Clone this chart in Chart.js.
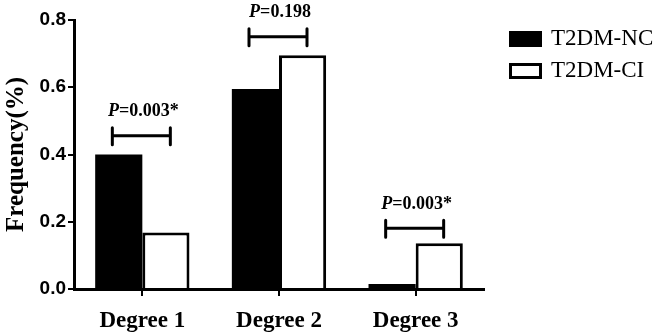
<!DOCTYPE html>
<html>
<head>
<meta charset="utf-8">
<script src="https://cdn.jsdelivr.net/npm/chart.js@4/dist/chart.umd.min.js"></script>
<style>
    body { margin: 0; background: #fff; }
    #wrap { width: 663px; height: 336px; }
</style>
</head>
<body>
<div id="wrap"><canvas id="chart"></canvas></div>
<script>
const categories = ["Degree 1", "Degree 2", "Degree 3"];
const seriesNames = ["T2DM-NC", "T2DM-CI"];
const ncValues = [0.40, 0.595, 0.015];
const ciValues = [0.168, 0.695, 0.136];
const pLabels = ["0.003*", "0.198", "0.003*"];
const bracketLevels = [0.456, 0.75, 0.181];
const yTicks = [0, 0.2, 0.4, 0.6, 0.8];

const serif = "'Liberation Serif', 'Times New Roman', serif";
const sans = "'Liberation Sans', Arial, sans-serif";

// brackets with P values + legend on the right
const extrasPlugin = {
    id: "extras",
    afterDraw(chart) {
        const ctx = chart.ctx;
        const y = chart.scales.y;
        const black = chart.getDatasetMeta(0).data;
        const white = chart.getDatasetMeta(1).data;
        ctx.save();
        ctx.strokeStyle = "#000";
        ctx.fillStyle = "#000";
        ctx.lineWidth = 3;
        ctx.lineCap = "round";
        pLabels.forEach((txt, i) => {
            const mid = (black[i].x + white[i].x) / 2 - 1;
            const by = y.getPixelForValue(bracketLevels[i]);
            const x0 = mid - 29, x1 = mid + 29;
            ctx.beginPath();
            ctx.moveTo(x0, by); ctx.lineTo(x1, by);
            ctx.moveTo(x0, by - 8); ctx.lineTo(x0, by + 9);
            ctx.moveTo(x1, by - 8); ctx.lineTo(x1, by + 9);
            ctx.stroke();

            ctx.textBaseline = "middle";
            ctx.textAlign = "left";
            ctx.font = "italic bold 18px " + serif;
            const wP = ctx.measureText("P").width;
            ctx.font = "bold 18px " + serif;
            const rest = "=" + txt;
            const wR = ctx.measureText(rest).width;
            const sx = mid + 2 - (wP + wR) / 2;
            const ty = by - 24;
            ctx.font = "italic bold 18px " + serif;
            ctx.fillText("P", sx, ty);
            ctx.font = "bold 18px " + serif;
            ctx.fillText(rest, sx + wP, ty);
        });

        // legend
        const lx = chart.chartArea.right + 25;
        chart.data.datasets.forEach((ds, i) => {
            const ly = 31 + i * 32;
            ctx.fillStyle = ds.backgroundColor;
            ctx.fillRect(lx, ly, 33, 16);
            ctx.lineWidth = 3;
            ctx.lineCap = "butt";
            ctx.strokeStyle = "#000";
            ctx.strokeRect(lx + 1.5, ly + 1.5, 30, 13);
            ctx.fillStyle = "#000";
            ctx.font = "23px " + serif;
            ctx.textAlign = "left";
            ctx.textBaseline = "middle";
            ctx.fillText(ds.label, lx + 42, ly + 8);
        });
        ctx.restore();
    }
};

new Chart(document.getElementById("chart"), {
    type: "bar",
    data: {
        labels: categories,
        datasets: [
            {
                label: seriesNames[0],
                data: ncValues,
                backgroundColor: "#000000",
                borderColor: "#000000",
                borderWidth: 0,
                inflateAmount: 0
            },
            {
                label: seriesNames[1],
                data: ciValues,
                backgroundColor: "#ffffff",
                borderColor: "#000000",
                borderWidth: 3,
                inflateAmount: 0
            }
        ]
    },
    options: {
        responsive: true,
        maintainAspectRatio: false,
        animation: false,
        layout: { padding: { top: 20, right: 179, left: 0, bottom: 0 } },
        datasets: { bar: { categoryPercentage: 0.69, barPercentage: 1.0 } },
        plugins: { legend: { display: false }, tooltip: { enabled: false } },
        scales: {
            x: {
                grid: { offset: false, drawOnChartArea: false, drawTicks: true, tickLength: 7, color: "#000", lineWidth: 2 },
                border: { display: true, color: "#000", width: 3 },
                ticks: { color: "#000", padding: 11, font: { family: serif, size: 23, weight: "bold" } },
                afterFit(scale) { scale.height = 47; }
            },
            y: {
                min: 0,
                max: 0.8,
                afterBuildTicks(scale) { scale.ticks = yTicks.map(v => ({ value: v })); },
                grid: { drawOnChartArea: false, drawTicks: true, tickLength: 6, color: "#000", lineWidth: 2 },
                border: { display: true, color: "#000", width: 3 },
                ticks: {
                    color: "#000",
                    padding: 2,
                    font: { family: sans, size: 19, weight: "bold" },
                    callback: v => Number(v).toFixed(1)
                },
                title: {
                    display: true,
                    text: "Frequency(%)",
                    color: "#000",
                    padding: { top: 2, bottom: 0 },
                    font: { family: serif, size: 25, weight: "bold" }
                },
                afterFit(scale) { scale.width = 74; }
            }
        }
    },
    plugins: [extrasPlugin]
});
</script>
</body>
</html>
